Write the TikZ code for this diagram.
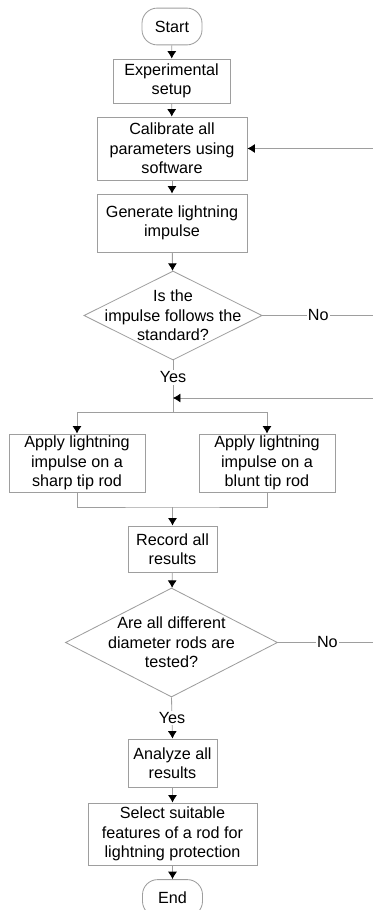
\documentclass[tikz,border=0pt]{standalone}
\usepackage{fontspec}
\setmainfont{Liberation Sans}
\usetikzlibrary{shapes.geometric,arrows.meta}
\definecolor{linegray}{gray}{0.62}
\tikzset{
    every node/.style={font=\fontsize{11.5}{13.9}\selectfont},
    box/.style={draw=linegray,line width=0.6pt,align=center,inner sep=1pt},
    term/.style={box,rounded corners=0.38cm,minimum width=1.5cm,minimum height=0.92cm},
    decision/.style={diamond,aspect=2,draw=linegray,line width=0.6pt,align=center,inner sep=-0.32cm},
    conn/.style={draw=linegray,line width=0.6pt},
    flow/.style={conn,-{Latex[length=5.3pt,width=6.4pt,color=black]}},
    lbl/.style={fill=white,inner sep=1pt}
}
\begin{document}
\begin{tikzpicture}[x=0.025cm,y=-0.025cm]
    \useasboundingbox (0,0) rectangle (373,910);
    \clip (0,0) rectangle (373,910);
    %% main column
    \node[term] (start) at (172,26.5) {Start};
    \node[box,minimum width=2.925cm,minimum height=1.1cm] (setup) at (171.5,81) {Experimental\\setup};
    \node[box,minimum width=3.75cm,minimum height=1.575cm] (calib) at (172,148.5) {Calibrate all\\parameters using\\software};
    \node[box,minimum width=3.75cm,minimum height=1.45cm] (gen) at (172,223) {Generate lightning\\impulse};
    \node[decision,minimum width=4.45cm,minimum height=2.225cm] (std) at (173,315.5) {Is the\\impulse follows the\\standard?};
    %% two rods
    \node[box,minimum width=3.4cm,minimum height=1.45cm] (sharp) at (77,463) {Apply lightning\\impulse on a\\sharp tip rod};
    \node[box,minimum width=3.4cm,minimum height=1.45cm] (blunt) at (267,463) {Apply lightning\\impulse on a\\blunt tip rod};
    \node[box,minimum width=2.225cm,minimum height=1.15cm] (record) at (172.5,549) {Record all\\results};
    \node[decision,minimum width=5.3cm,minimum height=2.725cm] (tested) at (171.5,642.5) {Are all different\\diameter rods are\\tested?};
    \node[box,minimum width=2.225cm,minimum height=1.2cm] (analyze) at (172.5,763) {Analyze all\\results};
    \node[box,minimum width=4.225cm,minimum height=1.55cm] (select) at (172.5,834) {Select suitable\\features of a rod for\\lightning protection};
    \node[term] (end) at (172.5,898) {End};
    %% loose ends at the right edge
    \coordinate (noA) at (373,315.5);
    \coordinate (noB) at (373,642.5);
    \coordinate (backA) at (373,148.5);
    \coordinate (backB) at (373,398);
    \coordinate (split) at (173,412);
    \coordinate (merge) at (172.5,507);
    %% connectors
    \draw[flow] (start) -- (setup);
    \draw[flow] (setup) -- (calib);
    \draw[flow] (calib) -- (gen);
    \draw[flow] (gen) -- (std);
    \draw[flow] (backA) -- (calib);
    \draw[conn] (std.east) -- node[lbl,pos=0.505] {No} (noA);
    \draw[conn] (std.south) -- node[lbl,pos=0.33] {Yes} (split);
    \draw[flow] (backB) -- (backB -| split);
    \draw[flow] (split) -| (sharp.north);
    \draw[flow] (split) -| (blunt.north);
    \draw[conn] (sharp.south) |- (merge) -| (blunt.south);
    \draw[flow] (merge) -- (record);
    \draw[flow] (record) -- (tested);
    \draw[conn] (tested.east) -- node[lbl,pos=0.52] {No} (noB);
    \draw[flow] (tested.south) -- node[lbl,pos=0.5] {Yes} (analyze.north);
    \draw[flow] (analyze) -- (select);
    \draw[flow] (select) -- (end);
\end{tikzpicture}
\end{document}
